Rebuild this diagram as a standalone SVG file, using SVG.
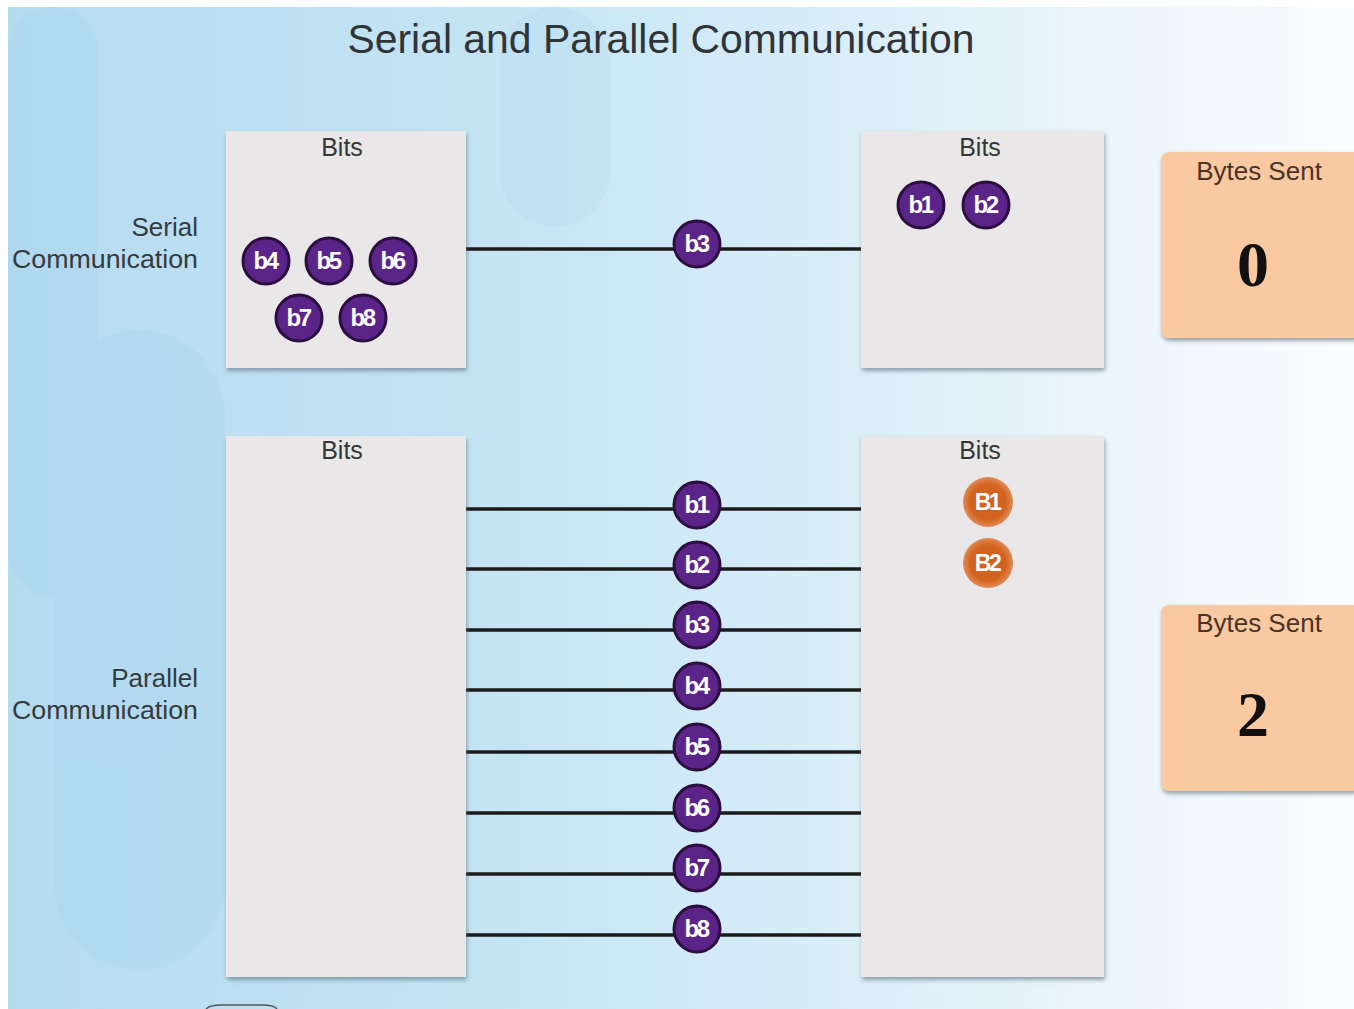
<svg xmlns="http://www.w3.org/2000/svg" width="1354" height="1009" viewBox="0 0 1354 1009">
<defs>
<linearGradient id="bg" x1="0" y1="0" x2="1" y2="0">
<stop offset="0" stop-color="#b5dbef"/>
<stop offset="0.35" stop-color="#c4e4f4"/>
<stop offset="0.6" stop-color="#d7edf7"/>
<stop offset="0.85" stop-color="#eef6fb"/>
<stop offset="1" stop-color="#fafdff"/>
</linearGradient>
<filter id="sh" x="-10%" y="-10%" width="120%" height="120%">
<feDropShadow dx="1" dy="3" stdDeviation="2" flood-color="#5a6a78" flood-opacity="0.6"/>
</filter>
<radialGradient id="org" cx="0.5" cy="0.5" r="0.5">
<stop offset="0.7" stop-color="#d2621f"/>
<stop offset="1" stop-color="#e08a55"/>
</radialGradient>
</defs>
<style>
.box{fill:#e9e7e8;filter:url(#sh)}
.bytes{fill:#f9c9a2;filter:url(#sh)}
.lbl{font-family:"Liberation Sans",Arial,sans-serif;font-size:26px;fill:#353a40}
.bits{font-family:"Liberation Sans",Arial,sans-serif;font-size:25px;fill:#363636;text-anchor:middle}
.bs{font-family:"Liberation Sans",Arial,sans-serif;font-size:26px;fill:#4a3426;text-anchor:middle}
.num{font-family:"Liberation Serif","Times New Roman",serif;font-size:64px;font-weight:bold;fill:#111;text-anchor:middle}
.wire{stroke:#1a1a1a;stroke-width:3.5;fill:none}
.bit circle{fill:#5b2489;stroke:#2d0f3f;stroke-width:3}
.bit text{font-family:"Liberation Sans",Arial,sans-serif;font-size:24px;font-weight:bold;fill:#fff;text-anchor:middle;letter-spacing:-2.5px}
.byte circle{fill:url(#org)}
.byte text{font-family:"Liberation Sans",Arial,sans-serif;font-size:23px;font-weight:bold;fill:#fff;text-anchor:middle;letter-spacing:-2.5px}
</style>
<rect x="0" y="0" width="1354" height="1009" fill="#ffffff"/>
<rect x="8" y="7" width="1346" height="1002" fill="url(#bg)"/>
<g opacity="0.09" fill="#7fb9dc">
<rect x="8" y="7" width="90" height="590" rx="45"/>
<rect x="55" y="330" width="170" height="640" rx="85"/>
<rect x="500" y="7" width="110" height="220" rx="55"/>
</g>
<text x="661" y="53" font-family="Liberation Sans,Arial,sans-serif" font-size="40" fill="#2f3438" text-anchor="middle" textLength="627" lengthAdjust="spacingAndGlyphs">Serial and Parallel Communication</text>

<g id="label-serial">
<text class="lbl" x="198" y="236" text-anchor="end">Serial</text>
<text class="lbl" x="12" y="268" textLength="186" lengthAdjust="spacingAndGlyphs">Communication</text>
</g>
<g id="label-parallel">
<text class="lbl" x="198" y="687" text-anchor="end">Parallel</text>
<text class="lbl" x="12" y="719" textLength="186" lengthAdjust="spacingAndGlyphs">Communication</text>
</g>

<g id="connectors">
<line class="wire" x1="466" y1="249" x2="861" y2="249"/>
<line class="wire" x1="466" y1="509" x2="861" y2="509"/>
<line class="wire" x1="466" y1="569" x2="861" y2="569"/>
<line class="wire" x1="466" y1="630" x2="861" y2="630"/>
<line class="wire" x1="466" y1="690" x2="861" y2="690"/>
<line class="wire" x1="466" y1="752" x2="861" y2="752"/>
<line class="wire" x1="466" y1="813" x2="861" y2="813"/>
<line class="wire" x1="466" y1="874" x2="861" y2="874"/>
<line class="wire" x1="466" y1="935" x2="861" y2="935"/>
</g>

<g id="serial-sender">
<rect class="box" x="226" y="131" width="240" height="237"/>
<text class="bits" x="342" y="156">Bits</text>
</g>
<g id="serial-receiver">
<rect class="box" x="861" y="131" width="243" height="237"/>
<text class="bits" x="980" y="156">Bits</text>
</g>
<g id="parallel-sender">
<rect class="box" x="226" y="436" width="240" height="541"/>
<text class="bits" x="342" y="459">Bits</text>
</g>
<g id="parallel-receiver">
<rect class="box" x="861" y="436" width="243" height="541"/>
<text class="bits" x="980" y="459">Bits</text>
</g>
<g id="bytes-serial">
<rect class="bytes" x="1161" y="152" width="200" height="186" rx="8"/>
<text class="bs" x="1259" y="180">Bytes Sent</text>
<text class="num" x="1253" y="286">0</text>
</g>
<g id="bytes-parallel">
<rect class="bytes" x="1161" y="605" width="200" height="186" rx="8"/>
<text class="bs" x="1259" y="632">Bytes Sent</text>
<text class="num" x="1253" y="736">2</text>
</g>

<g id="serial-bits">
<g class="bit"><circle cx="266" cy="261" r="23"/><text x="265" y="269">b4</text></g>
<g class="bit"><circle cx="329" cy="261" r="23"/><text x="328" y="269">b5</text></g>
<g class="bit"><circle cx="393" cy="261" r="23"/><text x="392" y="269">b6</text></g>
<g class="bit"><circle cx="299" cy="318" r="23"/><text x="298" y="326">b7</text></g>
<g class="bit"><circle cx="363" cy="318" r="23"/><text x="362" y="326">b8</text></g>
<g class="bit"><circle cx="697" cy="244" r="23"/><text x="696" y="252">b3</text></g>
<g class="bit"><circle cx="921" cy="205" r="23"/><text x="920" y="213">b1</text></g>
<g class="bit"><circle cx="986" cy="205" r="23"/><text x="985" y="213">b2</text></g>
</g>
<g id="parallel-bits">
<g class="bit"><circle cx="697" cy="505" r="23"/><text x="696" y="513">b1</text></g>
<g class="bit"><circle cx="697" cy="565" r="23"/><text x="696" y="573">b2</text></g>
<g class="bit"><circle cx="697" cy="625" r="23"/><text x="696" y="633">b3</text></g>
<g class="bit"><circle cx="697" cy="686" r="23"/><text x="696" y="694">b4</text></g>
<g class="bit"><circle cx="697" cy="747" r="23"/><text x="696" y="755">b5</text></g>
<g class="bit"><circle cx="697" cy="808" r="23"/><text x="696" y="816">b6</text></g>
<g class="bit"><circle cx="697" cy="868" r="23"/><text x="696" y="876">b7</text></g>
<g class="bit"><circle cx="697" cy="929" r="23"/><text x="696" y="937">b8</text></g>
<g class="byte"><circle cx="988" cy="502" r="25"/><text x="987" y="510">B1</text></g>
<g class="byte"><circle cx="988" cy="563" r="25"/><text x="987" y="571">B2</text></g>
</g>
<path d="M206 1009 Q210 1005 222 1005 L262 1005 Q274 1005 277 1009" fill="none" stroke="#555" stroke-width="1.5"/>
</svg>
